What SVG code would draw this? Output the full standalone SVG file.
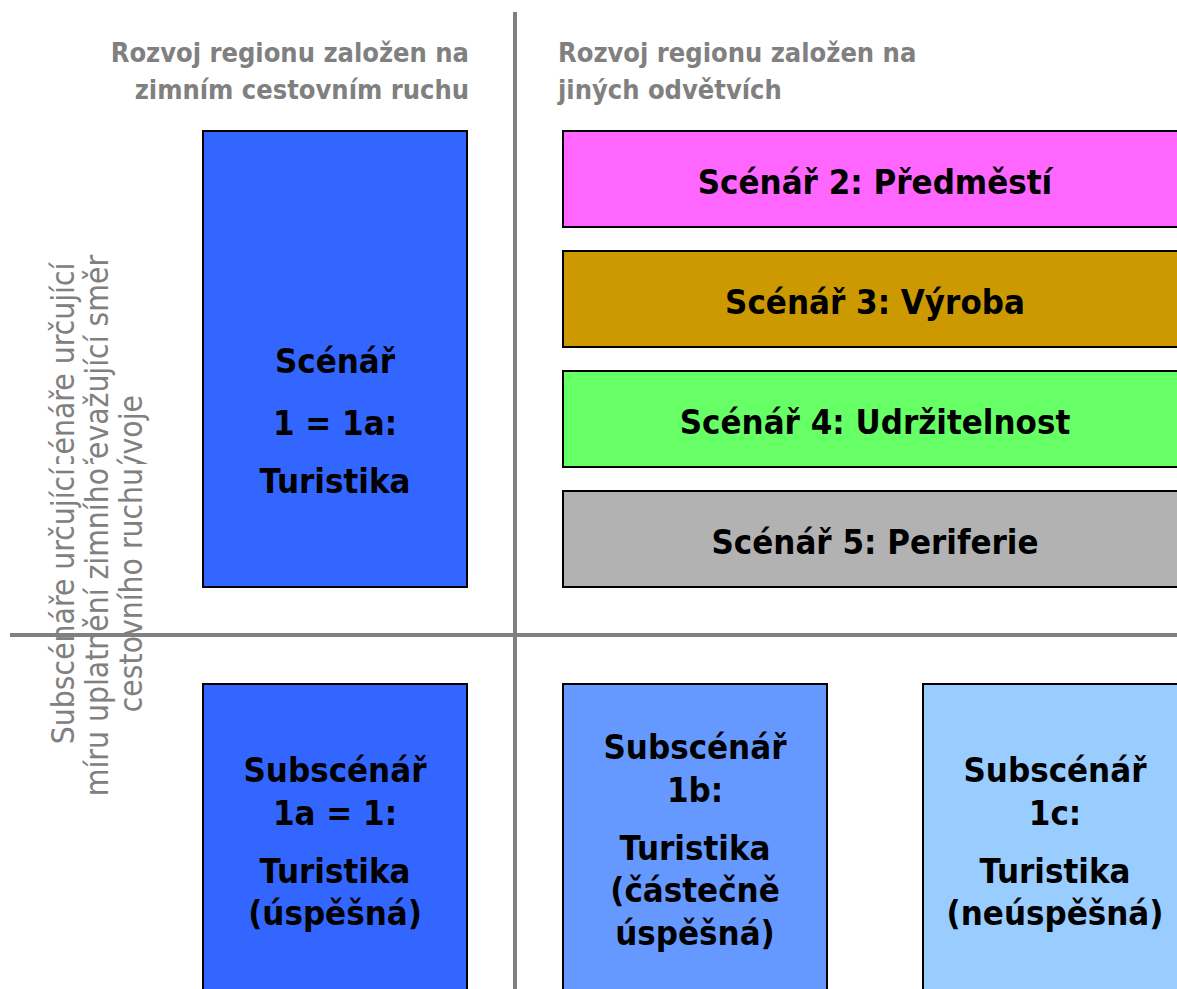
<svg xmlns="http://www.w3.org/2000/svg" width="1177" height="989" viewBox="0 0 1177 989">
<style>
.box{stroke:#000;stroke-width:2}
.bt{font-family:"DejaVu Sans Condensed","DejaVu Sans","Noto Sans",sans-serif;font-stretch:condensed;font-weight:bold;font-size:34.5px;fill:#000;text-anchor:middle}
.hd{font-family:"DejaVu Sans Condensed","DejaVu Sans","Noto Sans",sans-serif;font-stretch:condensed;font-weight:bold;font-size:27px;fill:#808080}
.rt{font-family:"DejaVu Sans Condensed","DejaVu Sans","Noto Sans",sans-serif;font-stretch:condensed;font-size:31.5px;fill:#808080}
.ax{stroke:#808080;stroke-width:4;fill:none}
</style>
<rect width="1177" height="989" fill="#fff"/>

<g id="header-left">
<text class="hd" x="469" y="62" text-anchor="end">Rozvoj regionu založen na</text>
<text class="hd" x="469" y="99" text-anchor="end">zimním cestovním ruchu</text>
</g>
<g id="header-right">
<text class="hd" x="558" y="62">Rozvoj regionu založen na</text>
<text class="hd" x="558" y="99">jiných odvětvích</text>
</g>

<g id="side-label-scenare">
<text class="rt" transform="translate(74,488) rotate(-90)">Scénáře určující</text>
<text class="rt" transform="translate(108,488) rotate(-90)">převažující směr</text>
<text class="rt" transform="translate(142,488) rotate(-90)">vývoje</text>
</g>
<g id="side-label-subscenare">
<rect x="40" y="464" width="114" height="340" fill="#fff"/>
<text class="rt" text-anchor="end" transform="translate(74,468) rotate(-90)">Subscénáře určující</text>
<text class="rt" text-anchor="end" transform="translate(108,468) rotate(-90)">míru uplatnění zimního</text>
<text class="rt" text-anchor="end" transform="translate(142,468) rotate(-90)">cestovního ruchu</text>
</g>

<g id="scenar1">
<rect class="box" x="203" y="131" width="264" height="456" fill="#3366FF"/>
<text class="bt" x="335" y="373">Scénář</text>
<text class="bt" x="335" y="435">1 = 1a:</text>
<text class="bt" x="335" y="493">Turistika</text>
</g>
<g id="scenar2">
<rect class="box" x="563" y="131" width="624" height="96" fill="#FF66FF"/>
<text class="bt" x="875" y="194">Scénář 2: Předměstí</text>
</g>
<g id="scenar3">
<rect class="box" x="563" y="251" width="624" height="96" fill="#CC9900"/>
<text class="bt" x="875" y="314">Scénář 3: Výroba</text>
</g>
<g id="scenar4">
<rect class="box" x="563" y="371" width="624" height="96" fill="#66FF66"/>
<text class="bt" x="875" y="434">Scénář 4: Udržitelnost</text>
</g>
<g id="scenar5">
<rect class="box" x="563" y="491" width="624" height="96" fill="#B2B2B2"/>
<text class="bt" x="875" y="554">Scénář 5: Periferie</text>
</g>

<g id="subscenar1a">
<rect class="box" x="203" y="684" width="264" height="320" fill="#3366FF"/>
<text class="bt" x="335" y="782">Subscénář</text>
<text class="bt" x="335" y="825">1a = 1:</text>
<text class="bt" x="335" y="883">Turistika</text>
<text class="bt" x="335" y="925">(úspěšná)</text>
</g>
<g id="subscenar1b">
<rect class="box" x="563" y="684" width="264" height="320" fill="#6699FF"/>
<text class="bt" x="695" y="759">Subscénář</text>
<text class="bt" x="695" y="802">1b:</text>
<text class="bt" x="695" y="860">Turistika</text>
<text class="bt" x="695" y="902">(částečně</text>
<text class="bt" x="695" y="945">úspěšná)</text>
</g>
<g id="subscenar1c">
<rect class="box" x="923" y="684" width="264" height="320" fill="#99CCFF"/>
<text class="bt" x="1055" y="782">Subscénář</text>
<text class="bt" x="1055" y="825">1c:</text>
<text class="bt" x="1055" y="883">Turistika</text>
<text class="bt" x="1055" y="925">(neúspěšná)</text>
</g>

<g id="connectors">
<line class="ax" x1="515" y1="12" x2="515" y2="989"/>
<line class="ax" x1="10" y1="635" x2="1177" y2="635"/>
</g>
</svg>
